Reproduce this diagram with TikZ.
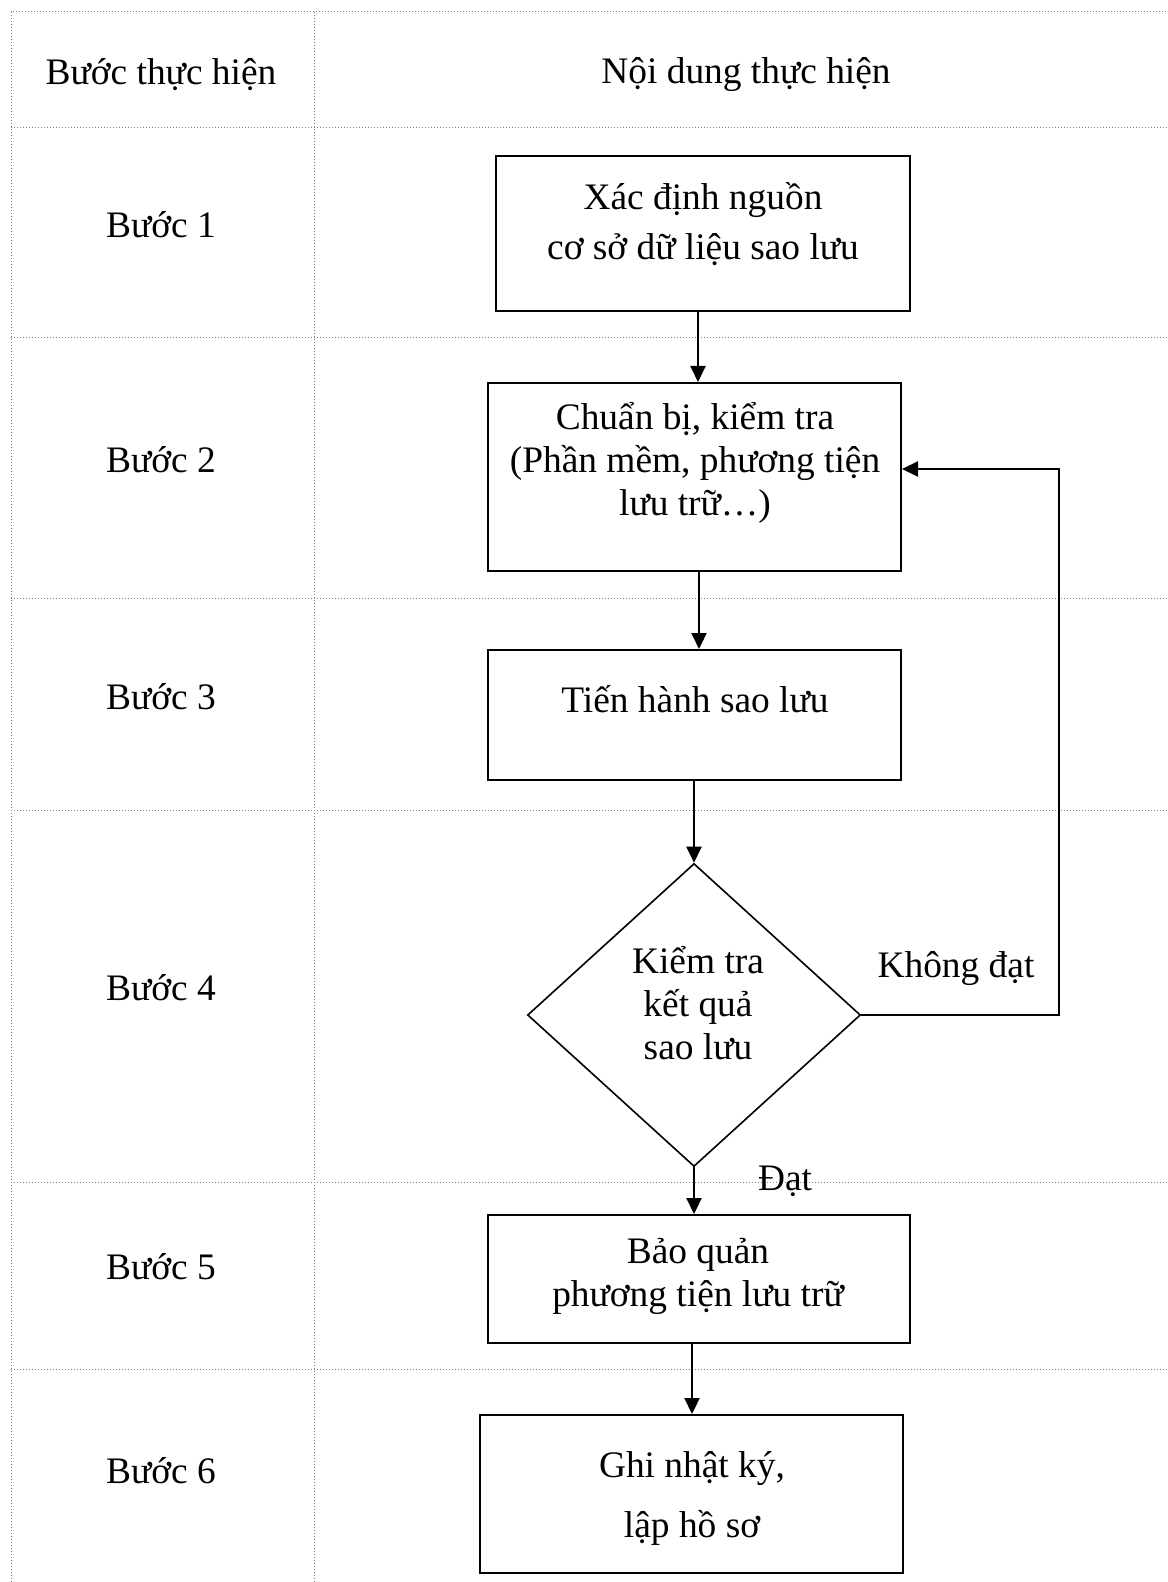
\documentclass[tikz,border=0pt]{standalone}
\usepackage{fontspec}
\setmainfont{Liberation Serif}
\usetikzlibrary{arrows.meta,shapes.geometric,fit}
\begin{document}
\begin{tikzpicture}[x=0.5pt,y=-0.5pt,font=\fontsize{18.7}{21.5}\selectfont,line join=miter,>={Triangle[length=8pt,width=7.5pt]},
  grid/.style={densely dotted,gray,line width=0.5pt},
  box/.style={draw,line width=1pt,inner sep=0pt},
  txt/.style={align=center,inner sep=0pt},
  arr/.style={->,line width=1.1pt}]
\useasboundingbox (0,0) rectangle (1167,1582);
% bang
\draw[grid] (11,1582) -- (11,12) -- (1167,12);
\draw[grid] (314,12) -- (314,1582);
\foreach \y in {128,338,598,810,1182,1369} \draw[grid] (11,\y) -- (1167,\y);
\node[txt] (h1) at (161,75) {Bước thực hiện};
\node[txt] (h2) at (746,75) {Nội dung thực hiện};
\foreach \i/\y in {1/225,2/460,3/697,4/988,5/1267,6/1471} \node[txt] (s\i) at (161,\y) {Bước \i};

% cac buoc
\node[box,fit={(496,156)(910,311)}] (b1) {};
\node[txt] (t1) at (703,224) {Xác định nguồn\\[3.5pt]cơ sở dữ liệu sao lưu};
\node[box,fit={(488,383)(901,571)}] (b2) {};
\node[txt] (t2) at (695,463) {Chuẩn bị, kiểm tra\\(Phần mềm, phương tiện\\lưu trữ…)};
\node[box,fit={(488,650)(901,780)}] (b3) {};
\node[txt] (t3) at (695,699) {Tiến hành sao lưu};
\node[box,diamond,line width=0.8pt,minimum width=166.5pt,minimum height=151.5pt] (d4) at (694,1015) {};
\node[txt] (t4) at (698,1003) {Kiểm tra\\kết quả\\sao lưu};
\node[box,fit={(488,1215)(910,1343)}] (b5) {};
\node[txt] (t5) at (698,1276) {Bảo quản\\phương tiện lưu trữ};
\node[box,fit={(480,1415)(903,1573)}] (b6) {};
\node[txt] (t6) at (692,1498) {Ghi nhật ký,\\[8.5pt]lập hồ sơ};

% mui ten
\coordinate (x1) at (698,0);
\coordinate (x2) at (699,0);
\coordinate (x5) at (692,0);
\coordinate (loop) at (1059,469);
\draw[arr] (b1.south -| x1) -- (b2.north -| x1);
\draw[arr] (b2.south -| x2) -- (b3.north -| x2);
\draw[arr] (b3.south -| d4.north) -- (d4.north);
\draw[arr] (d4.south) -- (b5.north -| d4.south);
\draw[arr] (b5.south -| x5) -- (b6.north -| x5);
\draw[arr] (d4.east) -| (loop) -- (loop -| b2.east);
\node[txt] (kd) at (956,969) {Không đạt};
\node[txt] (dat) at (785,1181) {Đạt};
\end{tikzpicture}
\end{document}
